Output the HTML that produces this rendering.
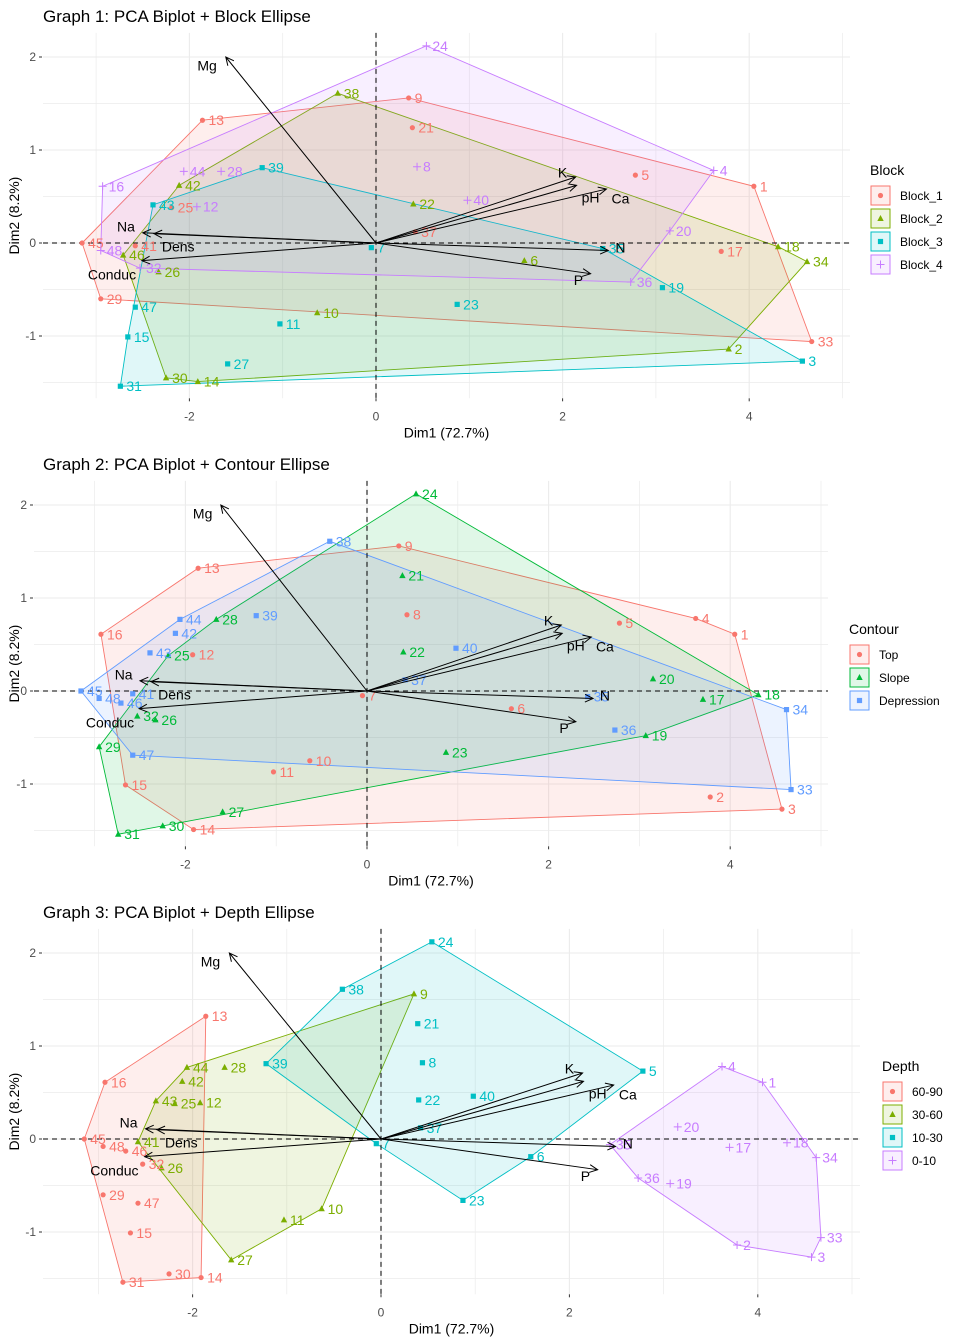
<!DOCTYPE html>
<html><head><meta charset="utf-8"><style>
body{margin:0;background:#fff;}
svg{display:block;font-family:"Liberation Sans",Arial,sans-serif;}
</style></head><body>
<svg id="root" width="960" height="1344" xmlns="http://www.w3.org/2000/svg"></svg>
<script>
// Individual coordinates (Dim1, Dim2), samples 1..48
const dim1 = [4.05,3.78,4.57,3.62,2.78,1.59,-0.05,0.44,0.35,-0.63,-1.03,-1.92,-1.86,-1.91,-2.66,-2.93,
 3.70,4.31,3.07,3.15,0.39,0.40,0.87,0.54,-2.19,-2.33,-1.59,-1.66,-2.95,-2.25,-2.74,-2.53,
 4.67,4.62,2.43,2.73,0.42,-0.41,-1.22,0.98,-2.58,-2.11,-2.39,-2.06,-3.15,-2.71,-2.58,-2.95];
const dim2 = [0.61,-1.14,-1.27,0.78,0.73,-0.19,-0.05,0.82,1.56,-0.75,-0.87,0.39,1.32,-1.49,-1.01,0.61,
 -0.09,-0.04,-0.48,0.13,1.24,0.42,-0.66,2.12,0.38,-0.31,-1.30,0.77,-0.60,-1.45,-1.54,-0.27,
 -1.06,-0.20,-0.06,-0.42,0.12,1.61,0.81,0.46,-0.03,0.62,0.41,0.77,0.00,-0.13,-0.69,-0.08];
// Variable loadings (arrow tips)
const varNames = ["Mg","K","Ca","pH","N","P","Na","Dens","Conduc"];
const varX = [-1.61,2.14,2.15,2.47,2.49,2.30,-2.50,-2.38,-2.51];
const varY = [2.00,0.71,0.62,0.58,-0.08,-0.33,0.11,0.10,-0.19];
const varLabX = [-1.81,2.00,2.62,2.30,2.62,2.17,-2.68,-2.12,-2.83];
const varLabY = [1.91,0.76,0.48,0.49,-0.05,-0.40,0.18,-0.04,-0.34];
// Groupings
const blockLevels = ["Block_1","Block_2","Block_3","Block_4"];
const contourLevels = ["Top","Slope","Depression"];
const depthLevels = ["60-90","30-60","10-30","0-10"];
const depthOfSample = [3,3,3,3,2,2,2,2,1,1,1,1,0,0,0,0, 3,3,3,3,2,2,2,2,1,1,1,1,0,0,0,0, 3,3,3,3,2,2,2,2,1,1,1,1,0,0,0,0];
const xTicks = [-2,0,2,4];
const yTicks = [2,1,0,-1];

const NS="http://www.w3.org/2000/svg";
const root=document.getElementById('root');
function mk(tag,attrs,parent){const e=document.createElementNS(NS,tag);for(const k in attrs)e.setAttribute(k,attrs[k]);(parent||root).appendChild(e);return e;}
const col4=["#F8766D","#7CAE00","#00BFC4","#C77CFF"];
const col3=["#F8766D","#00BA38","#619CFF"];

function hull(pts){
  pts=pts.slice().sort((a,b)=>a[0]-b[0]||a[1]-b[1]);
  const cr=(o,a,b)=>(a[0]-o[0])*(b[1]-o[1])-(a[1]-o[1])*(b[0]-o[0]);
  const lo=[],up=[];
  for(const p of pts){while(lo.length>=2&&cr(lo[lo.length-2],lo[lo.length-1],p)<=0)lo.pop();lo.push(p);}
  for(let i=pts.length-1;i>=0;i--){const p=pts[i];while(up.length>=2&&cr(up[up.length-2],up[up.length-1],p)<=0)up.pop();up.push(p);}
  up.pop();lo.pop();return lo.concat(up);
}
function shape(g,kind,x,y,c){
  let e;
  if(kind===0) e=mk('circle',{cx:x,cy:y,r:2.6,fill:c},g);
  else if(kind===1) e=mk('polygon',{points:`${x},${y-3.5} ${x-3.2},${y+2.5} ${x+3.2},${y+2.5}`,fill:c},g);
  else if(kind===2) e=mk('rect',{x:x-2.6,y:y-2.6,width:5.2,height:5.2,fill:c},g);
  else e=mk('path',{d:`M${x-4},${y}H${x+4}M${x},${y-4}V${y+4}`,stroke:c,'stroke-width':1},g);
  return e;
}

function panel(cfg){
  const {top,ox,sx,oy,left,right,title,levels,cols,groupOf,legendTitle,legX,legY}=cfg;
  const sy=93;
  const X=v=>ox+v*sx, Y=v=>oy-v*sy;
  const ptop=oy-2.26*sy, pbot=oy+1.67*sy;
  const g=mk('g',{},root);
  
  
  const t=mk('text',{x:43,y:top+22,'font-size':17,fill:'#000'},g);t.textContent=title;
  
  // grid
  const grid=mk('g',{},g);
  for(let v=-3;v<=5;v++){const x=X(v);if(x<left||x>right)continue;mk('line',{x1:x,x2:x,y1:ptop,y2:pbot,stroke:'#EBEBEB','stroke-width':v%2===0?1.1:0.7},grid);}
  for(let v=-1.5;v<=2.01;v+=0.5){const y=Y(v);mk('line',{x1:left,x2:right,y1:y,y2:y,stroke:'#EBEBEB','stroke-width':Number.isInteger(v)?1.1:0.7},grid);}
  // hulls
  levels.forEach((lv,k)=>{
    const pts=[];for(let i=0;i<dim1.length;i++)if(groupOf(i)===k)pts.push([X(dim1[i]),Y(dim2[i])]);
    const h=hull(pts);
    const p=mk('polygon',{points:h.map(q=>q.join(',')).join(' '),fill:cols[k],'fill-opacity':0.12,stroke:cols[k],'stroke-width':0.9},g);
    
  });
  // zero lines
  mk('line',{x1:X(0),x2:X(0),y1:ptop,y2:pbot,stroke:'#000','stroke-dasharray':'5,4','stroke-width':1},g);
  mk('line',{x1:left,x2:right,y1:Y(0),y2:Y(0),stroke:'#000','stroke-dasharray':'5,4','stroke-width':1},g);
  // points
  for(let i=0;i<dim1.length;i++){
    const k=groupOf(i),x=X(dim1[i]),y=Y(dim2[i]);
    const s=shape(g,k,x,y,cols[k]);
    
    const l=mk('text',{x:x+6,y:y+5,'font-size':14,fill:cols[k]},g);l.textContent=String(i+1);
    
  }
  // arrows
  for(let j=0;j<varNames.length;j++){
    const x=X(varX[j]),y=Y(varY[j]),x0=X(0),y0=Y(0);
    const a=Math.atan2(y-y0,x-x0),L=9,s=0.45;
    const ag=mk('g',{},g);
    mk('path',{d:`M${x0},${y0}L${x},${y}M${x-L*Math.cos(a-s)},${y-L*Math.sin(a-s)}L${x},${y}L${x-L*Math.cos(a+s)},${y-L*Math.sin(a+s)}`,stroke:'#000','stroke-width':1,fill:'none'},ag);
    const tl=mk('text',{x:X(varLabX[j]),y:Y(varLabY[j])+5,'font-size':14,'text-anchor':'middle',fill:'#000'},ag);tl.textContent=varNames[j];
  }
  // ticks
  xTicks.forEach(v=>{
    mk('line',{x1:X(v),x2:X(v),y1:pbot,y2:pbot+3,stroke:'#333','stroke-width':1},g);
    const e=mk('text',{x:X(v),y:pbot+22,'font-size':12,fill:'#4D4D4D','text-anchor':'middle'},g);e.textContent=v;
    });
  yTicks.forEach(v=>{
    mk('line',{x1:left-4,x2:left-1,y1:Y(v),y2:Y(v),stroke:'#333','stroke-width':1},g);
    const e=mk('text',{x:left-7,y:Y(v)+4,'font-size':12,fill:'#4D4D4D','text-anchor':'end'},g);e.textContent=v;
    });
  const xt=mk('text',{x:(left+right)/2,y:pbot+39,'font-size':14,'text-anchor':'middle'},g);xt.textContent='Dim1 (72.7%)';
  
  const yc=(ptop+pbot)/2;
  const yt=mk('text',{x:19,y:yc,'font-size':14,'text-anchor':'middle',transform:`rotate(-90 19 ${yc})`},g);yt.textContent='Dim2 (8.2%)';
  
  // legend
  const lg=mk('g',{},g);
  const ltt=mk('text',{x:legX,y:legY,'font-size':14},lg);ltt.textContent=legendTitle;
  levels.forEach((lv,k)=>{
    const y=legY+11+k*23;
    const eg=mk('g',{},lg);
    mk('rect',{x:legX+1,y:y,width:19,height:19,fill:cols[k],'fill-opacity':0.12,stroke:cols[k],'stroke-width':1},eg);
    shape(eg,k,legX+10.5,y+9.5,cols[k]);
    const tx=mk('text',{x:legX+30,y:y+14,'font-size':12},eg);tx.textContent=lv;
  });
}

panel({name:'graph-1-block',top:0,ox:376,sx:93.3,oy:243,left:43,right:850,title:'Graph 1: PCA Biplot + Block Ellipse',
  levels:blockLevels,cols:col4,groupOf:i=>i%4,legendTitle:'Block',legX:870,legY:175});
panel({name:'graph-2-contour',top:448,ox:367,sx:90.8,oy:691,left:34,right:828,title:'Graph 2: PCA Biplot + Contour Ellipse',
  levels:contourLevels,cols:col3,groupOf:i=>Math.floor(i/16),legendTitle:'Contour',legX:849,legY:634});
panel({name:'graph-3-depth',top:896,ox:381,sx:94.2,oy:1139,left:43,right:860,title:'Graph 3: PCA Biplot + Depth Ellipse',
  levels:depthLevels,cols:col4,groupOf:i=>depthOfSample[i],legendTitle:'Depth',legX:882,legY:1071});
</script>
</body></html>
